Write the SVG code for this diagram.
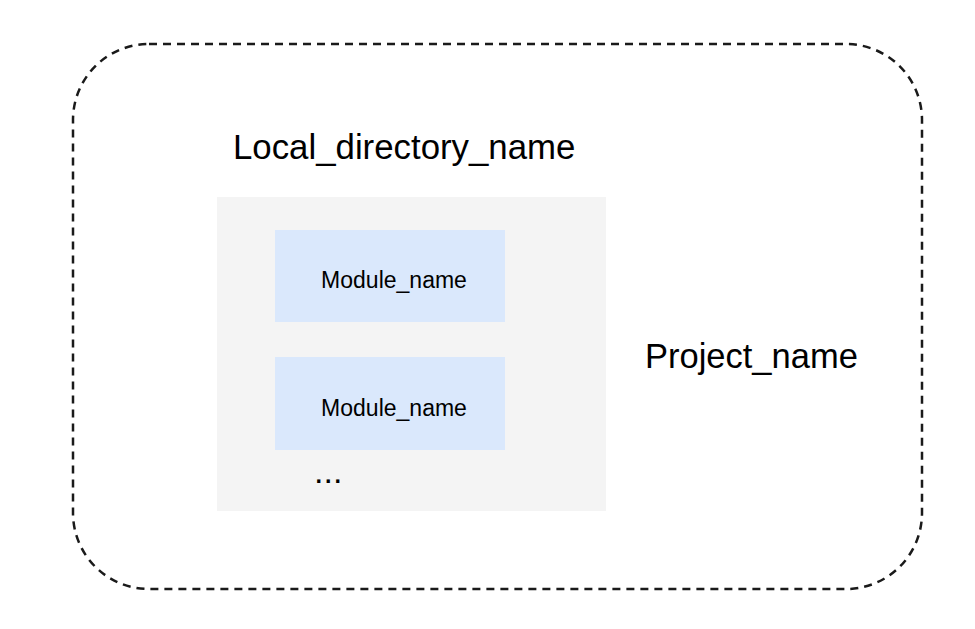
<svg xmlns="http://www.w3.org/2000/svg" width="975" height="629" viewBox="0 0 975 629">
<style>
.t{font-family:"Liberation Sans",Arial,sans-serif;fill:#000}
.mod{fill:#dae8fc}
</style>
<rect width="975" height="629" fill="#fff"/>
<g id="project">
<rect x="73" y="44" width="849" height="545" rx="76" ry="76" fill="none" stroke="#1a1a1a" stroke-width="2.5" stroke-dasharray="8,6"/>
<text class="t" x="645" y="368" font-size="34.5">Project_name</text>
</g>
<g id="local_directory">
<text class="t" x="233" y="159" font-size="34.8">Local_directory_name</text>
<rect x="217" y="197" width="389" height="314" fill="#f4f4f4"/>
<text class="t" x="314" y="483" font-size="34">...</text>
</g>
<g id="module1">
<rect class="mod" x="275" y="230" width="230" height="92"/>
<text class="t" x="394" y="288" font-size="23" text-anchor="middle">Module_name</text>
</g>
<g id="module2">
<rect class="mod" x="275" y="357" width="230" height="93"/>
<text class="t" x="394" y="416" font-size="23" text-anchor="middle">Module_name</text>
</g>
<g id="connectors"></g>
</svg>
